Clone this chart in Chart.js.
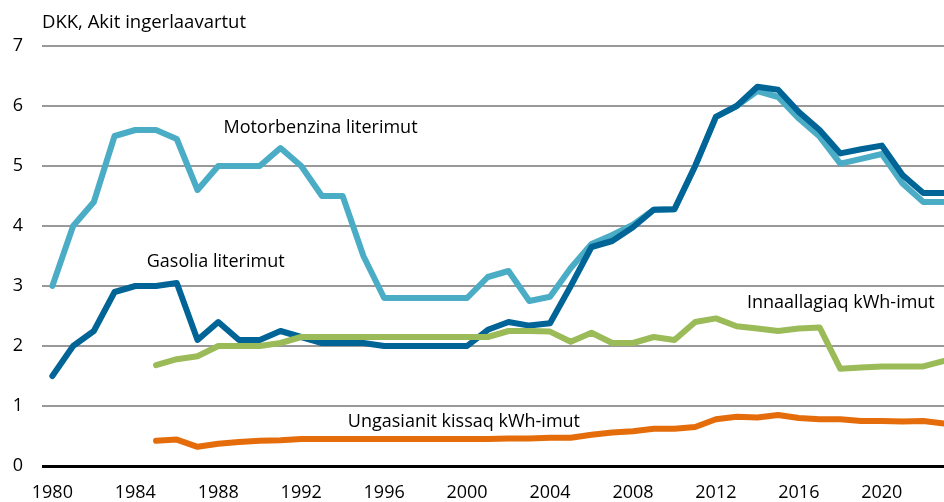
<!DOCTYPE html>
<html lang="kl">
<head>
<meta charset="UTF-8">
<title>Akit ingerlaavartut</title>
<script src="https://cdn.jsdelivr.net/npm/chart.js"></script>
<style>
  html, body { margin: 0; padding: 0; background: #fff; }
  #wrap { width: 944px; height: 502px; }
</style>
</head>
<body>
<div id="wrap"><canvas id="prices"></canvas></div>
<script>
// years on the x axis
const years = [1980, 1981, 1982, 1983, 1984, 1985, 1986, 1987, 1988, 1989,
  1990, 1991, 1992, 1993, 1994, 1995, 1996, 1997, 1998, 1999,
  2000, 2001, 2002, 2003, 2004, 2005, 2006, 2007, 2008, 2009,
  2010, 2011, 2012, 2013, 2014, 2015, 2016, 2017, 2018, 2019,
  2020, 2021, 2022, 2023];
const xTicks = [1980, 1984, 1988, 1992, 1996, 2000, 2004, 2008, 2012, 2016, 2020];
const yTicks = [0, 1, 2, 3, 4, 5, 6, 7];

// DKK per litre / per kWh
const motorbenzina = [3.0, 4.0, 4.4, 5.5, 5.6, 5.6, 5.45, 4.6, 5.0, 5.0,
  5.0, 5.3, 5.0, 4.5, 4.5, 3.5, 2.8, 2.8, 2.8, 2.8,
  2.8, 3.15, 3.25, 2.75, 2.82, 3.3, 3.7, 3.85, 4.02, 4.27,
  4.28, 5.0, 5.82, 6.0, 6.25, 6.15, 5.79, 5.49, 5.04, 5.12,
  5.2, 4.71, 4.4, 4.4];
const gasolia = [1.5, 2.0, 2.25, 2.9, 3.0, 3.0, 3.05, 2.1, 2.4, 2.1,
  2.1, 2.25, 2.15, 2.05, 2.05, 2.05, 2.0, 2.0, 2.0, 2.0,
  2.0, 2.27, 2.4, 2.34, 2.38, 3.0, 3.65, 3.75, 3.98, 4.27,
  4.28, 5.0, 5.82, 6.0, 6.32, 6.27, 5.9, 5.6, 5.21, 5.28,
  5.34, 4.85, 4.55, 4.55];
const innaallagiaq = [null, null, null, null, null, 1.68, 1.78, 1.83, 2.0, 2.0,
  2.0, 2.05, 2.15, 2.15, 2.15, 2.15, 2.15, 2.15, 2.15, 2.15,
  2.15, 2.15, 2.25, 2.25, 2.24, 2.07, 2.22, 2.05, 2.05, 2.15,
  2.1, 2.4, 2.46, 2.33, 2.29, 2.25, 2.29, 2.31, 1.62, 1.64,
  1.66, 1.66, 1.66, 1.75];
const ungasianit = [null, null, null, null, null, 0.42, 0.44, 0.32, 0.37, 0.4,
  0.42, 0.43, 0.45, 0.45, 0.45, 0.45, 0.45, 0.45, 0.45, 0.45,
  0.45, 0.45, 0.46, 0.46, 0.47, 0.47, 0.52, 0.56, 0.58, 0.62,
  0.62, 0.65, 0.78, 0.82, 0.81, 0.85, 0.8, 0.78, 0.78, 0.75,
  0.75, 0.74, 0.75, 0.71];

const FONT = "'Open Sans', 'Noto Sans', sans-serif";

function points(values) {
  return years.map((y, i) => ({ x: y, y: values[i] }));
}

function line(label, values, color) {
  return {
    label: label,
    data: points(values),
    borderColor: color,
    borderWidth: 6,
    borderJoinStyle: 'round',
    borderCapStyle: 'round',
    pointRadius: 0,
    tension: 0,
    fill: false,
    spanGaps: false
  };
}

// series names written next to the lines, placed in axis units
const seriesLabels = [
  { text: 'Motorbenzina literimut', x: 1988.25, y: 5.63 },
  { text: 'Gasolia literimut', x: 1984.55, y: 3.4 },
  { text: 'Innaallagiaq kWh-imut', x: 2013.5, y: 2.72 },
  { text: 'Ungasianit kissaq kWh-imut', x: 1994.25, y: 0.73 }
];

const textPlugin = {
  id: 'lineText',
  afterDraw(chart) {
    const ctx = chart.ctx;
    const xs = chart.scales.x, ys = chart.scales.y;
    ctx.save();
    ctx.fillStyle = '#000';
    ctx.font = '18px ' + FONT;
    ctx.textAlign = 'left';
    ctx.textBaseline = 'middle';
    seriesLabels.forEach(l => {
      ctx.fillText(l.text, xs.getPixelForValue(l.x), ys.getPixelForValue(l.y));
    });
    // unit caption above the value axis
    ctx.font = '18.5px ' + FONT;
    ctx.fillText('DKK, Akit ingerlaavartut', chart.chartArea.left, 23);
    ctx.restore();
  }
};

new Chart(document.getElementById('prices'), {
  type: 'line',
  data: {
    datasets: [
      line('Ungasianit kissaq kWh-imut', ungasianit, '#E46C0A'),
      line('Innaallagiaq kWh-imut', innaallagiaq, '#9BBB59'),
      line('Gasolia literimut', gasolia, '#006497'),
      line('Motorbenzina literimut', motorbenzina, '#4BACC6')
    ]
  },
  options: {
    responsive: true,
    maintainAspectRatio: false,
    animation: false,
    layout: { padding: { top: 46, right: 0, left: 0, bottom: 0 } },
    plugins: {
      legend: { display: false },
      tooltip: { enabled: false }
    },
    scales: {
      x: {
        type: 'linear',
        min: 1979.5,
        max: 2023,
        afterBuildTicks: s => { s.ticks = xTicks.map(v => ({ value: v })); },
        afterFit: s => { s.height = 36; },
        grid: { display: false, drawTicks: false },
        border: { display: false },
        ticks: {
          color: '#000',
          font: { family: FONT, size: 18 },
          padding: 16,
          maxRotation: 0,
          callback: v => String(v)
        }
      },
      y: {
        min: 0,
        max: 7,
        afterBuildTicks: s => { s.ticks = yTicks.map(v => ({ value: v })); },
        afterFit: s => { s.width = 42; },
        border: { display: false },
        grid: {
          drawTicks: false,
          color: c => c.tick.value === 0 ? '#000' : '#999',
          lineWidth: c => c.tick.value === 0 ? 3 : 2
        },
        ticks: {
          color: '#000',
          font: { family: FONT, size: 18 },
          padding: 19
        }
      }
    }
  },
  plugins: [textPlugin]
});
</script>
</body>
</html>
